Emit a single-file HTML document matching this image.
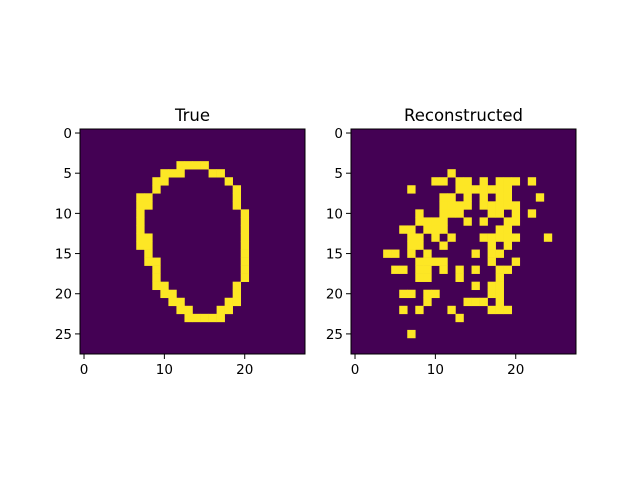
<!DOCTYPE html>
<html><head><meta charset="utf-8"><style>
html,body{margin:0;padding:0;background:#fff;}
svg{display:block;font-family:"DejaVu Sans","Liberation Sans",sans-serif;}
</style></head><body>
<svg id="fig" width="640" height="480" viewBox="0 0 640 480"></svg>
<script>
// Row -> yellow column indices (28x28 binary images)
const trueRows = {
 4:[12,13,14,15],5:[10,11,12,16,17],6:[9,10,18],7:[9,19],8:[7,8,19],9:[7,8,19],
 10:[7,20],11:[7,20],12:[7,20],13:[7,8,20],14:[7,8,20],15:[8,20],16:[8,9,20],
 17:[9,20],18:[9,20],19:[9,10,19],20:[10,11,19],21:[11,12,18,19],22:[12,13,17,18],
 23:[13,14,15,16,17]
};
const reconRows = {
 5:[12],6:[10,11,13,14,16,18,19,20,22],7:[7,13,14,15,16,17,18,19],
 8:[11,12,14,16,18,19,23],9:[11,12,13,14,16,17,18,19,20],
 10:[8,11,12,13,17,18,20,22],11:[8,9,10,11,14,16,19,20],12:[6,7,9,10,11,18,19],
 13:[7,8,10,12,16,17,18,19,20,24],14:[7,8,11,17,19],15:[4,5,7,9,15,17,18],
 16:[8,9,10,11,17,20],17:[5,6,8,9,11,13,15,18,19],18:[8,9,13,18],19:[15,17,18],
 20:[6,7,9,10,17,18],21:[9,14,15,16,18],22:[6,8,12,17,18,19],23:[13],25:[7]
};
const yTicks = [0,5,10,15,20,25];
const xTicks = [0,10,20];
const N = 28;
const panels = [
 {title:'True', left:80, rows:trueRows, name:'true-image'},
 {title:'Reconstructed', left:351, rows:reconRows, name:'reconstructed-image'}
];
const TOP = 129, SIZE = 225, CELL = SIZE/N;
const NS = 'http://www.w3.org/2000/svg';
const svg = document.getElementById('fig');
function mk(tag, attrs, parent){
  const e = document.createElementNS(NS, tag);
  for (const k in attrs) e.setAttribute(k, attrs[k]);
  (parent||svg).appendChild(e); return e;
}
panels.forEach(p=>{
  const g = mk('g', {});
  
  
  const sx = c => p.left + c*CELL;
  const sy = r => TOP + r*CELL;
  const bg = mk('rect', {x:p.left, y:TOP, width:SIZE, height:SIZE, fill:'#440154'}, g);
  
  
  for (const r in p.rows) {
    p.rows[r].forEach(c=>{
      const px = mk('rect', {x:sx(c), y:sy(+r), width:CELL+0.3, height:CELL+0.3, fill:'#fde725'}, g);
      
      
    });
  }
  const fr = mk('rect', {x:p.left, y:TOP, width:SIZE, height:SIZE, fill:'none', stroke:'#000', 'stroke-width':1}, g);
  
  
  const t = mk('text', {x:p.left+SIZE/2, y:TOP-8, 'text-anchor':'middle', 'font-size':'16.5', fill:'#000'}, g);
  t.textContent = p.title;
  
  
  yTicks.forEach(v=>{
    const y = sy(v+0.5);
    mk('line', {x1:p.left-5, x2:p.left, y1:y, y2:y, stroke:'#000', 'stroke-width':1}, g);
    const l = mk('text', {x:p.left-8, y:y+5, 'text-anchor':'end', 'font-size':'13.5', fill:'#000'}, g);
    l.textContent = v;
    
    
  });
  xTicks.forEach(v=>{
    const x = sx(v+0.5);
    mk('line', {x1:x, x2:x, y1:TOP+SIZE, y2:TOP+SIZE+5, stroke:'#000', 'stroke-width':1}, g);
    const l = mk('text', {x:x, y:TOP+SIZE+20, 'text-anchor':'middle', 'font-size':'13.5', fill:'#000'}, g);
    l.textContent = v;
    
    
  });
});
</script>
</body></html>
